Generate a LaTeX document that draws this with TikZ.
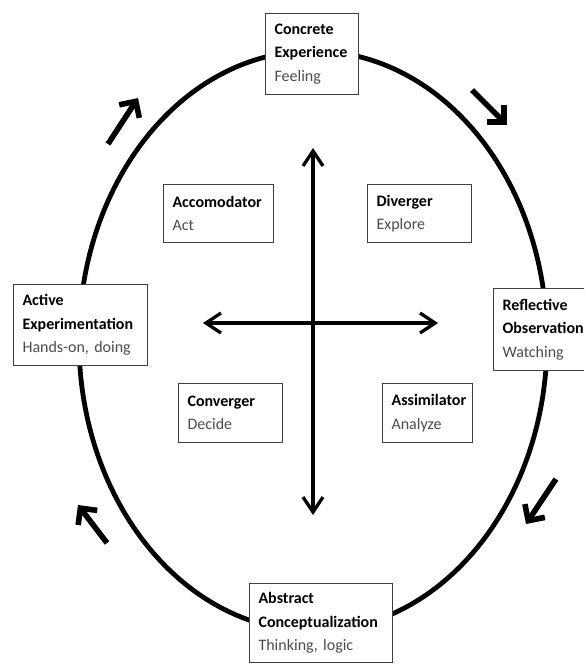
\documentclass[tikz,border=0pt]{standalone}
\usepackage{fontspec}
\setmainfont{Carlito}
\usetikzlibrary{arrows.meta}

\definecolor{subgray}{gray}{0.3}

\tikzset{
  stagebox/.style={draw=black!75, line width=1.1pt, fill=white, anchor=north west,
    align=left, inner xsep=9pt, inner ysep=0pt, font=\fontsize{16}{23.5}\selectfont\frenchspacing},
  loopline/.style={line width=4.8pt},
  crossline/.style={line width=3.3pt, {Straight Barb[length=15pt,width=20pt]}-{Straight Barb[length=15pt,width=20pt]}},
  turnarrow/.style={line width=5.6pt, -{Straight Barb[length=12pt,width=24pt]}},
}

\newcommand{\sub}[1]{{\color{subgray}#1}}

\begin{document}
\begin{tikzpicture}[x=1pt, y=-1pt]
            \useasboundingbox (0,0) rectangle (584,664);
            \clip (0,0) rectangle (584,664);
            \fill [white] (0,0) rectangle (584,664);

            % Learning cycle
            \draw [loopline] (313,341) ellipse [x radius=234pt, y radius=290pt];

            % Direction of the cycle
            \draw [turnarrow] (108,144) -- (138,98);
            \draw [turnarrow] (472,90) -- (507,125);
            \draw [turnarrow] (556,479) -- (526,524);
            \draw [turnarrow] (107,543) -- (78,505);

            % Axes
            \coordinate (west) at (203,323);
            \coordinate (east) at (438,323);
            \coordinate (north) at (313,148);
            \coordinate (south) at (313,515);
            \draw [crossline] (west) -- (east);
            \draw [crossline] (north) -- (south);

            % Stages on the cycle
            \node [stagebox, text width=75pt, minimum height=81pt] (concrete) at (265,13)
                {\textbf{Concrete}\\\textbf{Experience}\\\sub{Feeling}};
            \node [stagebox, text width=116pt, minimum height=81pt] (active) at (13,284)
                {\textbf{Active}\\\textbf{Experimentation}\\\sub{Hands-on, doing}};
            \node [stagebox, text width=92pt, minimum height=82pt] (reflective) at (493,288)
                {\textbf{Reflective}\\\textbf{Observation}\\\sub{Watching}};
            \node [stagebox, text width=125pt, minimum height=79pt] (abstract) at (249,583)
                {\textbf{Abstract}\\\textbf{Conceptualization}\\\sub{Thinking, logic}};

            % Learning styles
            \node [stagebox, text width=92pt, minimum height=58pt] (accomodator) at (163,184)
                {\textbf{Accomodator}\\\sub{Act}};
            \node [stagebox, text width=86pt, minimum height=58pt] (diverger) at (367,184)
                {\textbf{Diverger}\\\sub{Explore}};
            \node [stagebox, text width=86pt, minimum height=59pt] (converger) at (178,383)
                {\textbf{Converger}\\\sub{Decide}};
            \node [stagebox, text width=72pt, minimum height=59pt] (assimilator) at (382,383)
                {\textbf{Assimilator}\\\sub{Analyze}};
        \end{tikzpicture}
\end{document}
